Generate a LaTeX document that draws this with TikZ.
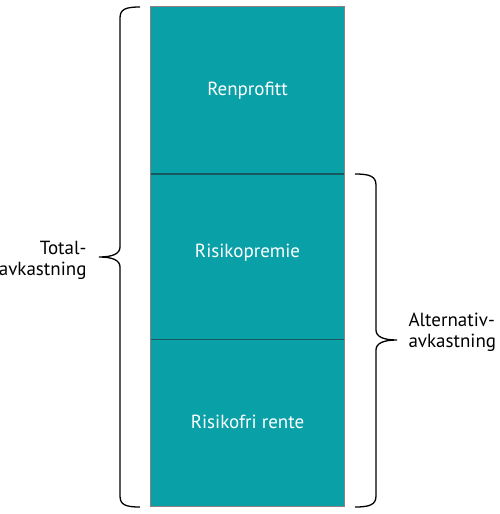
\documentclass[tikz,border=0pt]{standalone}
\usepackage{fontspec}
\setmainfont{PT Sans}
\definecolor{tealfill}{RGB}{9,160,168}
\definecolor{tealline}{RGB}{22,88,94}
\definecolor{edgegrey}{RGB}{140,128,128}
\begin{document}
\begin{tikzpicture}[x=1pt,y=-1pt,font=\fontsize{19}{21}\selectfont,
  seglabel/.style={text=white},
  sidelabel/.style={align=right},
  brace/.style={line width=1.3pt,black}] % units are pixels of the reference, y going down

\useasboundingbox (0,0) rectangle (500,514);

\fill[tealfill] (150.7,6.7) rectangle (344.3,506.7);
\draw[edgegrey,line width=0.6pt] (150.7,6.7) rectangle (344.3,506.7);
\draw[tealline,line width=1.6pt] (150.7,173.7) -- (344.3,173.7) (150.7,339.3) -- (344.3,339.3);

\node[seglabel] (renprofitt) at (247.5,91) {Renprofitt};
\node[seglabel] (premie) at (247.5,253) {Risikopremie};
\node[seglabel] (rente) at (247.5,422) {Risikofri rente};

\draw[brace] (140,7) .. controls (126,7) and (120,9) .. (120,18) -- (120,247)
  .. controls (120,254) and (112,257) .. (99,257) .. controls (112,257) and (120,260) .. (120,267)
  -- (120,496) .. controls (120,505) and (126,507) .. (140,507);
\draw[brace] (355,174) .. controls (369,174) and (376,176) .. (376,185) -- (376,330)
  .. controls (376,337) and (384,340) .. (397,340) .. controls (384,340) and (376,343) .. (376,350)
  -- (376,496) .. controls (376,505) and (369,507) .. (355,507);

\node[sidelabel,anchor=east] (total) at (90,260) {Total-\\avkastning};
\node[align=left,anchor=west] (alternativ) at (405,332) {Alternativ-\\avkastning};

\end{tikzpicture}
\end{document}
